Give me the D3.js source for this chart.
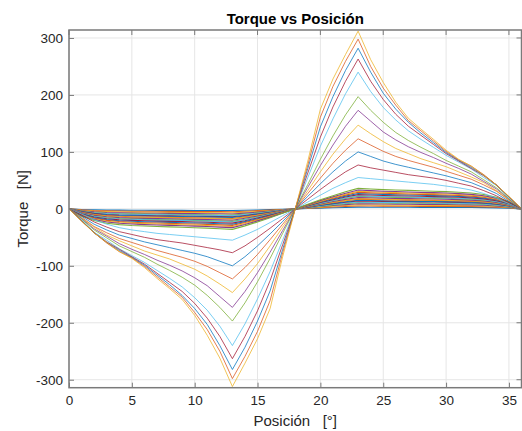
<!DOCTYPE html>
<html>
<head>
<meta charset="utf-8">
<script src="https://cdn.jsdelivr.net/npm/d3@7"></script>
<style>
  body { margin: 0; background: #fff; }
</style>
</head>
<body>
<svg id="chart" width="522" height="431"></svg>
<script>
// Position in degrees (x axis)
const posicion = [0,1,2,3,4,5,6,7,8,9,10,11,12,13,14,15,16,17,18,19,20,21,22,23,24,25,26,27,28,29,30,31,32,33,34,35,36];

// Small-torque band (plotted first)
const t03 = [0,-1.1,-1.7,-2.1,-2.3,-2.4,-2.5,-2.6,-2.6,-2.7,-2.8,-2.8,-2.9,-3,-2.5,-1.9,-1.3,-0.7,0,0.7,1.3,1.9,2.5,3,2.9,2.8,2.8,2.7,2.6,2.6,2.5,2.4,2.3,2.1,1.7,1.1,0];
const t05 = [0,-1.8,-2.9,-3.5,-3.9,-4.1,-4.2,-4.3,-4.4,-4.5,-4.6,-4.7,-4.9,-5,-4.2,-3.2,-2.2,-1.1,0,1.1,2.2,3.2,4.2,5,4.9,4.7,4.6,4.5,4.4,4.3,4.2,4.1,3.9,3.5,2.9,1.8,0];
const t07 = [0,-2.5,-4,-4.9,-5.4,-5.7,-5.9,-6,-6.2,-6.3,-6.4,-6.6,-6.8,-7,-5.8,-4.5,-3.1,-1.5,0,1.5,3.1,4.5,5.8,7,6.8,6.6,6.4,6.3,6.2,6,5.9,5.7,5.4,4.9,4,2.5,0];
const t09 = [0,-3.2,-5.1,-6.3,-6.9,-7.3,-7.6,-7.7,-7.9,-8.1,-8.3,-8.5,-8.7,-9,-7.5,-5.8,-4,-2,0,2,4,5.8,7.5,9,8.7,8.5,8.3,8.1,7.9,7.7,7.6,7.3,6.9,6.3,5.1,3.2,0];
const t11 = [0,-3.9,-6.3,-7.7,-8.5,-8.9,-9.2,-9.5,-9.7,-9.9,-10.1,-10.3,-10.7,-11,-9.1,-7,-4.8,-2.4,0,2.4,4.8,7,9.1,11,10.7,10.3,10.1,9.9,9.7,9.5,9.2,8.9,8.5,7.7,6.3,3.9,0];
const t12 = [0,-4.2,-6.8,-8.4,-9.2,-9.7,-10.1,-10.3,-10.6,-10.8,-11,-11.3,-11.6,-12,-10,-7.7,-5.3,-2.6,0,2.6,5.3,7.7,10,12,11.6,11.3,11,10.8,10.6,10.3,10.1,9.7,9.2,8.4,6.8,4.2,0];
const t14 = [0,-4.9,-8,-9.8,-10.8,-11.3,-11.8,-12,-12.3,-12.6,-12.9,-13.2,-13.6,-14,-11.6,-9,-6.2,-3.1,0,3.1,6.2,9,11.6,14,13.6,13.2,12.9,12.6,12.3,12,11.8,11.3,10.8,9.8,8,4.9,0];
const t15 = [0,-5.3,-8.6,-10.5,-11.6,-12.2,-12.6,-12.9,-13.2,-13.5,-13.8,-14.1,-14.6,-15,-12.5,-9.6,-6.6,-3.3,0,3.3,6.6,9.6,12.5,15,14.6,14.1,13.8,13.5,13.2,12.9,12.6,12.2,11.6,10.5,8.6,5.3,0];
const t17 = [0,-6,-9.7,-11.9,-13.1,-13.8,-14.3,-14.6,-15,-15.3,-15.6,-16,-16.5,-17,-14.1,-10.9,-7.5,-3.7,0,3.7,7.5,10.9,14.1,17,16.5,16,15.6,15.3,15,14.6,14.3,13.8,13.1,11.9,9.7,6,0];
const t18 = [0,-6.3,-10.3,-12.6,-13.9,-14.6,-15.1,-15.5,-15.8,-16.2,-16.6,-16.9,-17.5,-18,-14.9,-11.5,-7.9,-4,0,4,7.9,11.5,14.9,18,17.5,16.9,16.6,16.2,15.8,15.5,15.1,14.6,13.9,12.6,10.3,6.3,0];
const t20 = [0,-7,-11.4,-14,-15.4,-16.2,-16.8,-17.2,-17.6,-18,-18.4,-18.8,-19.4,-20,-16.6,-12.8,-8.8,-4.4,0,4.4,8.8,12.8,16.6,20,19.4,18.8,18.4,18,17.6,17.2,16.8,16.2,15.4,14,11.4,7,0];
const t22 = [0,-7.7,-12.5,-15.4,-16.9,-17.8,-18.5,-18.9,-19.4,-19.8,-20.2,-20.7,-21.3,-22,-18.3,-14.1,-9.7,-4.8,0,4.8,9.7,14.1,18.3,22,21.3,20.7,20.2,19.8,19.4,18.9,18.5,17.8,16.9,15.4,12.5,7.7,0];
const t23 = [0,-8.1,-13.1,-16.1,-17.7,-18.6,-19.3,-19.8,-20.2,-20.7,-21.2,-21.6,-22.3,-23,-19.1,-14.7,-10.1,-5.1,0,5.1,10.1,14.7,19.1,23,22.3,21.6,21.2,20.7,20.2,19.8,19.3,18.6,17.7,16.1,13.1,8.1,0];
const t25 = [0,-8.8,-14.3,-17.5,-19.3,-20.3,-21,-21.5,-22,-22.5,-23,-23.5,-24.3,-25,-20.8,-16,-11,-5.5,0,5.5,11,16,20.8,25,24.3,23.5,23,22.5,22,21.5,21,20.3,19.3,17.5,14.3,8.8,0];
const t27 = [0,-9.5,-15.4,-18.9,-20.8,-21.9,-22.7,-23.2,-23.8,-24.3,-24.8,-25.4,-26.2,-27,-22.4,-17.3,-11.9,-5.9,0,5.9,11.9,17.3,22.4,27,26.2,25.4,24.8,24.3,23.8,23.2,22.7,21.9,20.8,18.9,15.4,9.5,0];
const t29 = [0,-10.2,-16.5,-20.3,-22.3,-23.5,-24.4,-24.9,-25.5,-26.1,-26.7,-27.3,-28.1,-29,-24.1,-18.6,-12.8,-6.4,0,6.4,12.8,18.6,24.1,29,28.1,27.3,26.7,26.1,25.5,24.9,24.4,23.5,22.3,20.3,16.5,10.2,0];
const t31 = [0,-10.9,-17.7,-21.7,-23.9,-25.1,-26,-26.7,-27.3,-27.9,-28.5,-29.1,-30.1,-31,-25.7,-19.8,-13.6,-6.8,0,6.8,13.6,19.8,25.7,31,30.1,29.1,28.5,27.9,27.3,26.7,26,25.1,23.9,21.7,17.7,10.9,0];
const t33 = [0,-11.6,-18.8,-23.1,-25.4,-26.7,-27.7,-28.4,-29,-29.7,-30.4,-31,-32,-33,-27.4,-21.1,-14.5,-7.3,0,7.3,14.5,21.1,27.4,33,32,31,30.4,29.7,29,28.4,27.7,26.7,25.4,23.1,18.8,11.6,0];
const t36 = [0,-12.6,-20.5,-25.2,-27.7,-29.2,-30.2,-31,-31.7,-32.4,-33.1,-33.8,-34.9,-36,-29.9,-23,-15.8,-7.9,0,7.9,15.8,23,29.9,36,34.9,33.8,33.1,32.4,31.7,31,30.2,29.2,27.7,25.2,20.5,12.6,0];

// Large-torque curves
const t055 = [0,-9,-19,-27,-33,-37,-40,-43,-45,-47,-49,-51,-53,-55,-46,-36,-24,-12,0,12,24,36,46,55,53,51,49,47,45,43,40,37,33,27,19,9,0];
const t077 = [0,-11,-23,-32,-40,-45,-50,-54,-57,-60,-64,-68,-72,-77,-65,-50,-34,-17,0,17,34,50,65,77,72,68,64,60,57,54,50,45,40,32,23,11,0];
const t100 = [0,-13,-27,-37,-46,-52,-58,-63,-68,-73,-78,-84,-92,-100,-84,-65,-44,-22,0,22,44,65,84,100,92,84,78,73,68,63,58,52,46,37,27,13,0];
const t123 = [0,-15,-31,-42,-52,-59,-66,-73,-79,-85,-92,-101,-112,-123,-103,-80,-54,-27,0,27,54,80,103,123,112,101,92,85,79,73,66,59,52,42,31,15,0];
const t147 = [0,-16,-32,-46,-56,-65,-74,-81,-88,-97,-106,-118,-132,-147,-123,-96,-65,-32,0,32,65,96,123,147,132,118,106,97,88,81,74,65,56,46,32,16,0];
const t173 = [0,-17,-35,-48,-61,-71,-80,-90,-99,-109,-121,-135,-154,-173,-145,-112,-76,-38,0,38,76,112,145,173,154,135,121,109,99,90,80,71,61,48,35,17,0];
const t197 = [0,-18,-37,-51,-65,-75,-85,-97,-108,-120,-134,-152,-173,-197,-165,-128,-87,-43,0,43,87,128,165,197,173,152,134,120,108,97,85,75,65,51,37,18,0];
const t240 = [0,-19,-41,-55,-70,-82,-94,-108,-122,-137,-156,-178,-206,-240,-202,-158,-110,-55,0,55,110,158,202,240,206,178,156,137,122,108,94,82,70,55,41,19,0];
const t263 = [0,-21,-42,-58,-71,-84,-97,-113,-129,-145,-166,-192,-224,-263,-224,-179,-126,-63,0,63,126,179,224,263,224,192,166,145,129,113,97,84,71,58,42,21,0];
const t282 = [0,-21,-42,-59,-73,-85,-99,-116,-133,-152,-175,-203,-240,-282,-243,-197,-144,-71,0,71,144,197,243,282,240,203,175,152,133,116,99,85,73,59,42,21,0];
const t298 = [0,-21,-42,-60,-75,-86,-101,-119,-137,-155,-182,-212,-250,-298,-259,-215,-161,-77,0,77,161,215,259,298,250,212,182,155,137,119,101,86,75,60,42,21,0];
const t312 = [0,-22,-42,-59,-75,-87,-103,-122,-140,-159,-187,-222,-262,-312,-271,-228,-175,-84,0,84,175,228,271,312,262,222,187,159,140,122,103,87,75,59,42,22,0];

const bandCurves = [t03, t05, t07, t09, t11, t12, t14, t15, t17, t18, t20, t22, t23, t25, t27, t29, t31, t33, t36];
const bigCurves = [t055, t077, t100, t123, t147, t173, t197, t240, t263, t282, t298, t312];
const curves = bandCurves.concat(bigCurves);

const xTicks = [0, 5, 10, 15, 20, 25, 30, 35];
const yTicks = [-300, -200, -100, 0, 100, 200, 300];
const lineColors = ['#0072BD', '#D95319', '#EDB120', '#7E2F8E', '#77AC30', '#4DBEEE', '#A2142F'];

const chartTitle = 'Torque vs Posición';
const xAxisLabel = 'Posición   [°]';
const yAxisLabel = 'Torque   [N]';

// Layout
const plot = { left: 69, right: 521.5, top: 30, bottom: 387.7 };
const innerWidth = plot.right - plot.left;
const innerHeight = plot.bottom - plot.top;
const fontFamily = '"Liberation Sans", Arial, sans-serif';

const svg = d3.select('#chart');

const xScale = d3.scaleLinear().domain([0, 36]).range([plot.left, plot.right]);
const yScale = d3.scaleLinear().domain([-314, 314]).range([plot.bottom, plot.top]);

const gridColor = '#e6e6e6';
const tickColor = '#7a7a7a';
const labelColor = '#262626';

// Grid lines
svg.append('g').selectAll('line')
  .data(xTicks)
  .enter().append('line')
    .attr('x1', d => xScale(d)).attr('x2', d => xScale(d))
    .attr('y1', plot.top).attr('y2', plot.bottom)
    .attr('stroke', gridColor);

svg.append('g').selectAll('line')
  .data(yTicks)
  .enter().append('line')
    .attr('x1', plot.left).attr('x2', plot.right)
    .attr('y1', d => yScale(d)).attr('y2', d => yScale(d))
    .attr('stroke', gridColor);

// Curves
svg.append('clipPath').attr('id', 'plotClip')
  .append('rect')
    .attr('x', plot.left).attr('y', plot.top)
    .attr('width', innerWidth).attr('height', innerHeight);

const line = d3.line()
    .x((d, i) => xScale(posicion[i]))
    .y(d => yScale(d));

svg.append('g')
    .attr('clip-path', 'url(#plotClip)')
  .selectAll('path')
  .data(curves)
  .enter().append('path')
    .attr('d', line)
    .attr('fill', 'none')
    .attr('stroke', (d, i) => lineColors[i % 7])
    .attr('stroke-width', (d, i) => i < bandCurves.length ? 1.1 : 1)
    .attr('stroke-opacity', (d, i) => i < bandCurves.length ? 0.95 : 0.75);

// Axes: labelled bottom/left, inward ticks on all four sides
const xAxisG = svg.append('g')
    .attr('transform', `translate(0, ${plot.bottom})`)
    .attr('font-family', fontFamily)
    .attr('font-size', 13.5)
    .call(d3.axisBottom(xScale).tickValues(xTicks).tickSizeInner(-5).tickSizeOuter(0)
        .tickPadding(8).tickFormat(d => String(d)));
xAxisG.select('.domain').remove();

const yAxisG = svg.append('g')
    .attr('transform', `translate(${plot.left}, 0)`)
    .call(d3.axisLeft(yScale).tickValues(yTicks).tickSizeInner(-5).tickSizeOuter(0)
        .tickPadding(6).tickFormat(d => String(d)));
yAxisG.select('.domain').remove();

[xAxisG, yAxisG].forEach(g => {
    g.attr('font-family', fontFamily).attr('font-size', 13.5);
    g.selectAll('.tick line').attr('stroke', tickColor);
    g.selectAll('.tick text').attr('fill', labelColor);
});

// top and right tick marks (no labels)
svg.append('g').selectAll('line')
  .data(xTicks)
  .enter().append('line')
    .attr('x1', d => xScale(d)).attr('x2', d => xScale(d))
    .attr('y1', plot.top).attr('y2', plot.top + 5)
    .attr('stroke', tickColor);

svg.append('g').selectAll('line')
  .data(yTicks)
  .enter().append('line')
    .attr('x1', plot.right - 5).attr('x2', plot.right)
    .attr('y1', d => yScale(d)).attr('y2', d => yScale(d))
    .attr('stroke', tickColor);

svg.append('rect')
    .attr('x', plot.left).attr('y', plot.top)
    .attr('width', innerWidth).attr('height', innerHeight)
    .attr('fill', 'none')
    .attr('stroke', tickColor)
    .attr('stroke-width', 1.5);

// Labels
svg.append('text')
    .text(chartTitle)
    .attr('x', (plot.left + plot.right) / 2)
    .attr('y', 24)
    .attr('text-anchor', 'middle')
    .attr('font-family', fontFamily)
    .attr('font-size', 15)
    .attr('font-weight', 'bold')
    .attr('fill', '#000');

svg.append('text')
    .text(xAxisLabel)
    .attr('x', (plot.left + plot.right) / 2)
    .attr('y', 426)
    .attr('text-anchor', 'middle')
    .attr('xml:space', 'preserve')
    .style('white-space', 'pre')
    .attr('font-family', fontFamily)
    .attr('font-size', 15)
    .attr('fill', labelColor);

svg.append('text')
    .text(yAxisLabel)
    .attr('transform', `translate(28, ${(plot.top + plot.bottom) / 2}) rotate(-90)`)
    .attr('text-anchor', 'middle')
    .attr('xml:space', 'preserve')
    .style('white-space', 'pre')
    .attr('font-family', fontFamily)
    .attr('font-size', 15)
    .attr('fill', labelColor);
</script>
</body>
</html>
